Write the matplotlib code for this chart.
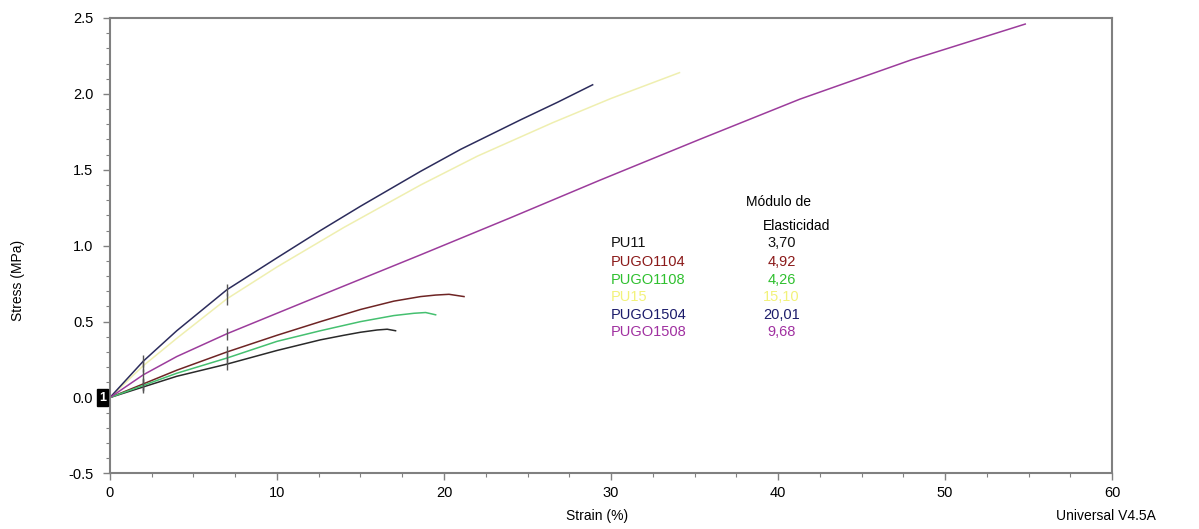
import numpy as np
import matplotlib.pyplot as plt
from matplotlib.ticker import MultipleLocator

plt.rcParams['font.family'] = ['Liberation Sans', 'DejaVu Sans']

# Curvas esfuerzo-deformacion
pu11_x = [0, 2, 4, 7, 10, 12.6, 14, 15, 16, 16.6, 17.1]
pu11_y = [0, 0.07, 0.14, 0.22, 0.31, 0.38, 0.41, 0.43, 0.445, 0.45, 0.44]

pugo1104_x = [0, 2, 4, 7, 10, 12.6, 15, 17, 18.6, 19.5, 20.3, 21.2]
pugo1104_y = [0, 0.09, 0.18, 0.30, 0.41, 0.50, 0.58, 0.635, 0.665, 0.675, 0.68, 0.665]

pugo1108_x = [0, 2, 4, 7, 10, 12.6, 15, 17, 18.2, 18.9, 19.5]
pugo1108_y = [0, 0.08, 0.16, 0.26, 0.37, 0.44, 0.50, 0.54, 0.555, 0.56, 0.545]

pu15_x = [0, 2, 4, 7, 10, 14, 18.6, 22, 26.5, 30, 34.1]
pu15_y = [0, 0.21, 0.39, 0.65, 0.86, 1.12, 1.40, 1.59, 1.81, 1.97, 2.14]

pugo1504_x = [0, 1, 2, 4, 7, 10, 12.6, 15, 18.6, 21, 24.6, 26.8, 28.9]
pugo1504_y = [0, 0.12, 0.24, 0.44, 0.71, 0.92, 1.10, 1.26, 1.49, 1.635, 1.83, 1.945, 2.06]

pugo1508_x = [0, 2, 4, 7, 12, 18.6, 24, 29.3, 35.3, 41.3, 48, 54.8]
pugo1508_y = [0, 0.15, 0.27, 0.42, 0.645, 0.94, 1.185, 1.43, 1.70, 1.965, 2.225, 2.46]

muestras = ['PU11', 'PUGO1104', 'PUGO1108', 'PU15', 'PUGO1504', 'PUGO1508']
modulos = ['3,70', '4,92', '4,26', '15,10', '20,01', '9,68']
marcas_x = [2, 7]

curvas = [(pu11_x, pu11_y), (pugo1104_x, pugo1104_y), (pugo1108_x, pugo1108_y),
          (pu15_x, pu15_y), (pugo1504_x, pugo1504_y), (pugo1508_x, pugo1508_y)]
colores_linea = ['#2a2a2a', '#6e2424', '#45c070', '#efefb0', '#2c2c5c', '#9c3c9c']
colores_texto = ['#111111', '#8b1a1a', '#2fc02f', '#f2f27a', '#1c1c6b', '#a030a0']

fig = plt.figure(figsize=(11.99, 5.29), dpi=100)
ax = fig.add_axes([0.0917, 0.105, 0.8358, 0.861])

for (x, y), c in zip(curvas, colores_linea):
    ax.plot(x, y, color=c, lw=1.1)
    # marcas verticales en 2 % y 7 %
    ax.plot(marcas_x, np.interp(marcas_x, x, y), '|', color='#555555', ms=8, mew=1.0)

ax.set_xlim(0, 60)
ax.set_ylim(-0.5, 2.5)
ax.xaxis.set_major_locator(MultipleLocator(10))
ax.xaxis.set_minor_locator(MultipleLocator(2.5))
ax.yaxis.set_major_locator(MultipleLocator(0.5))
ax.yaxis.set_minor_locator(MultipleLocator(0.1))
ax.yaxis.set_major_formatter(lambda v, p: f'{v:.1f}')

for s in ax.spines.values():
    s.set_color('#808080')
    s.set_linewidth(1.5)
ax.tick_params(which='both', direction='out', color='#808080', labelsize=10.5)
ax.tick_params(which='major', length=5, width=1)
ax.tick_params(which='minor', length=3, width=0.8)
ax.tick_params(axis='x', pad=4)
ax.tick_params(axis='y', pad=7)

# caja con el numero 1 en el origen
ax.text(-0.45, 0, '1', ha='center', va='center', color='white', fontsize=9,
        fontweight='bold', clip_on=False,
        bbox=dict(facecolor='black', edgecolor='black', pad=1.5))

# tabla de modulos
ax.text(40.0, 1.29, 'Módulo de', ha='center', va='center', fontsize=10)
ax.text(41.1, 1.13, 'Elasticidad', ha='center', va='center', fontsize=10)
filas_y = [1.016, 0.891, 0.773, 0.662, 0.544, 0.432]
for nombre, mod, c, fy in zip(muestras, modulos, colores_texto, filas_y):
    ax.text(30.0, fy, nombre, ha='left', va='center', fontsize=10.5, color=c)
    ax.text(40.2, fy, mod, ha='center', va='center', fontsize=10.5, color=c)

fig.text(0.015, 0.47, 'Stress (MPa)', rotation=90, ha='center', va='center', fontsize=10)
fig.text(0.498, 0.025, 'Strain (%)', ha='center', va='center', fontsize=10)
fig.text(0.922, 0.025, 'Universal V4.5A', ha='center', va='center', fontsize=10)

fig.savefig('out.png', dpi=100)
